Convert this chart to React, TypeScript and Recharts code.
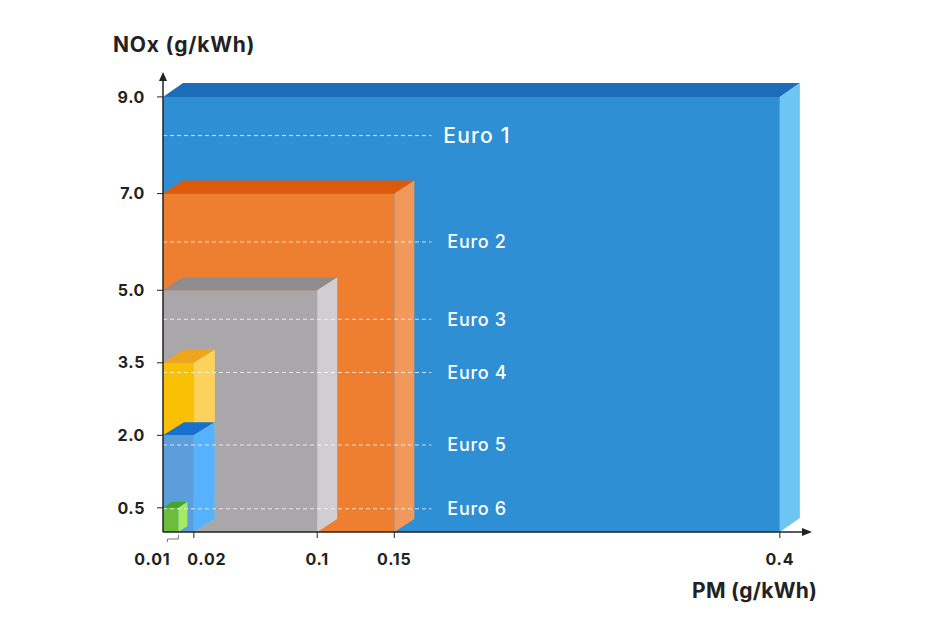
import React from "react";
import {
  ComposedChart,
  XAxis,
  YAxis,
  ReferenceArea,
  ReferenceLine,
  ReferenceDot,
} from "recharts";

// Euro emission standards for heavy-duty engines
const standards = ["Euro 1", "Euro 2", "Euro 3", "Euro 4", "Euro 5", "Euro 6"];
const pmLimits = [0.4, 0.15, 0.1, 0.02, 0.02, 0.01];
const noxLimits = [9.0, 7.0, 5.0, 3.5, 2.0, 0.5];
// NOx level where each leader line + label sits
const labelLevels = [8.2, 6.0, 4.4, 3.3, 1.8, 0.48];

const pmTicks = [0.01, 0.02, 0.1, 0.15, 0.4];
const noxTicks = [0.5, 2.0, 3.5, 5.0, 7.0, 9.0];

const PM_MAX = 0.415;
const NOX_MAX = 9.35;
const LEADER_END = 0.174;

const INK = "#222";
const FONT = "Inter, 'Open Sans', sans-serif";

const PALETTE = [
  { front: "#2f8fd5", top: "#1b6dba", side: "#6dc6f1" },
  { front: "#ef7f30", top: "#dd5a0c", side: "#f2985a" },
  { front: "#a9a7a9", top: "#8e8c8e", side: "#d0ced0" },
  { front: "#f8c104", top: "#efa61c", side: "#fdd25c" },
  { front: "#5b9edb", top: "#1670cf", side: "#57b2fe" },
  { front: "#6cbd3c", top: "#45a524", side: "#a3ec62" },
];

// 3d extrusion (dx, dy) per box
const DEPTH: [number, number][] = [
  [20, 14],
  [20, 13],
  [20, 13],
  [21, 13],
  [21, 13],
  [9, 6],
];

const data = standards.map((name, i) => ({
  name,
  pm: pmLimits[i],
  nox: noxLimits[i],
}));

function makeBox(i: number) {
  const c = PALETTE[i];
  const [dx, dy] = DEPTH[i];
  return (p: any) => {
    const { x, y, width: w, height: h } = p;
    const r = x + w;
    const b = y + h;
    return (
      <g>
        <rect x={x} y={y} width={w} height={h} fill={c.front} />
        <polygon
          points={`${x},${y} ${x + dx},${y - dy} ${r + dx},${y - dy} ${r},${y}`}
          fill={c.top}
        />
        <polygon
          points={`${r},${y} ${r + dx},${y - dy} ${r + dx},${b - dy} ${r},${b}`}
          fill={c.side}
        />
      </g>
    );
  };
}

function makeLabel(i: number) {
  const first = i === 0;
  return (p: any) => {
    const vb = p.viewBox || {};
    const x = (vb.x ?? 0) + (vb.width ?? 0) + (first ? 12 : 16);
    return (
      <text
        x={x}
        y={vb.y}
        dy="0.36em"
        fill="#fff"
        fontFamily={FONT}
        fontWeight={500}
        fontSize={first ? 21 : 18}
        letterSpacing={first ? 1.2 : 0.7}
      >
        {standards[i]}
      </text>
    );
  };
}

const TICK_SHIFT: Record<string, number> = { "0.01": -26, "0.02": 13 };

function PmTick(props: any) {
  const { x, y, payload } = props;
  const key = String(payload.value);
  const shift = TICK_SHIFT[key] ?? 0;
  return (
    <g>
      {key === "0.01" ? (
        <path
          d={`M${x - 11},${y + 10} V${y + 7} H${x} V${y + 3}`}
          fill="none"
          stroke="#777"
          strokeWidth={1}
        />
      ) : (
        <line x1={x} y1={y} x2={x} y2={y + 6} stroke={INK} strokeWidth={1} />
      )}
      <text
        x={x + shift}
        y={y + 33}
        textAnchor="middle"
        fill={INK}
        fontFamily={FONT}
        fontWeight={700}
        fontSize={16}
        letterSpacing={0.8}
      >
        {key}
      </text>
    </g>
  );
}

export default function App() {
  return (
    <div
      style={{
        position: "absolute",
        left: 0,
        top: 0,
        width: 930,
        height: 620,
        background: "#fff",
        fontFamily: FONT,
      }}
    >
      <ComposedChart
        width={930}
        height={620}
        data={data}
        margin={{ top: 80, right: 127, bottom: 48, left: 0 }}
      >
        {standards.map((s, i) => (
          <ReferenceArea
            key={s}
            x1={0}
            x2={pmLimits[i]}
            y1={0}
            y2={noxLimits[i]}
            ifOverflow="visible"
            shape={makeBox(i)}
          />
        ))}

        {standards.map((s, i) => (
          <ReferenceLine
            key={`lead-${s}`}
            segment={[
              { x: 0, y: labelLevels[i] },
              { x: LEADER_END, y: labelLevels[i] },
            ]}
            stroke="rgba(255,255,255,0.75)"
            strokeWidth={1}
            strokeDasharray="4 3"
            ifOverflow="visible"
            label={makeLabel(i)}
          />
        ))}

        <XAxis
          type="number"
          dataKey="pm"
          domain={[0, PM_MAX]}
          ticks={pmTicks}
          interval={0}
          height={40}
          axisLine={{ stroke: INK, strokeWidth: 1.5 }}
          tickLine={false}
          tickSize={0}
          tickMargin={0}
          tick={<PmTick />}
        />
        <YAxis
          type="number"
          dataKey="nox"
          domain={[0, NOX_MAX]}
          ticks={noxTicks}
          interval={0}
          width={163}
          axisLine={{ stroke: INK, strokeWidth: 1.5 }}
          tickLine={{ stroke: INK }}
          tickSize={6}
          tickMargin={12}
          tickFormatter={(v: number) => v.toFixed(1)}
          tick={{
            fill: INK,
            fontFamily: FONT,
            fontWeight: 700,
            fontSize: 16,
            letterSpacing: 0.6,
          }}
        />

        <ReferenceDot
          x={0}
          y={NOX_MAX}
          r={0}
          ifOverflow="visible"
          shape={(p: any) => (
            <polygon
              points={`${p.cx - 4},${p.cy + 1} ${p.cx + 4},${p.cy + 1} ${p.cx},${p.cy - 8}`}
              fill={INK}
            />
          )}
        />
        <ReferenceDot
          x={PM_MAX}
          y={0}
          r={0}
          ifOverflow="visible"
          shape={(p: any) => (
            <polygon
              points={`${p.cx - 1},${p.cy - 4} ${p.cx - 1},${p.cy + 4} ${p.cx + 9},${p.cy}`}
              fill={INK}
            />
          )}
        />
      </ComposedChart>

      <div
        style={{
          position: "absolute",
          left: 113,
          top: 34,
          fontSize: 21,
          lineHeight: "21px",
          fontWeight: 700,
          color: INK,
          letterSpacing: 0.8,
          whiteSpace: "nowrap",
        }}
      >
        NOx (g/kWh)
      </div>
      <div
        style={{
          position: "absolute",
          left: 692,
          top: 580,
          fontSize: 21,
          lineHeight: "21px",
          fontWeight: 700,
          color: INK,
          letterSpacing: 0.3,
          whiteSpace: "nowrap",
        }}
      >
        PM (g/kWh)
      </div>
    </div>
  );
}
